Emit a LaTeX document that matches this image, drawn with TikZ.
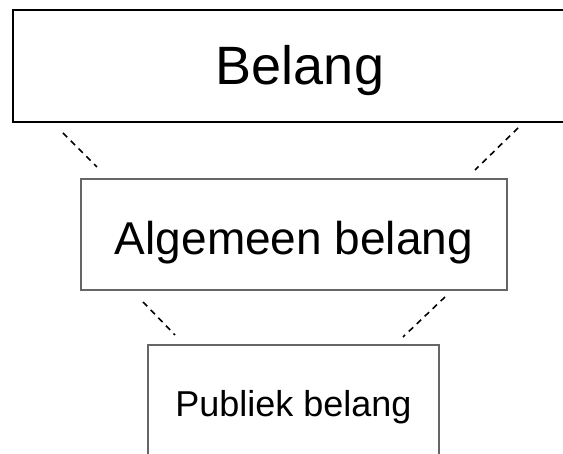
\documentclass[tikz,border=0pt]{standalone}
\usepackage{fontspec}
\setmainfont{Liberation Sans}
\begin{document}
\begin{tikzpicture}[x=1pt,y=-1pt,
  boxtop/.style={draw=black,line width=1.4pt,inner sep=0pt,text height=38pt,text depth=0pt,font=\fontsize{54}{64}\selectfont},
  boxmid/.style={draw=black!60,line width=1.1pt,inner sep=0pt,text height=41pt,text depth=0pt,font=\fontsize{46}{55}\selectfont},
  boxbot/.style={draw=black!60,line width=1.1pt,inner sep=0pt,text height=19pt,text depth=0pt,font=\fontsize{36}{43}\selectfont},
  link/.style={draw=black,line width=1.6pt,dash pattern=on 6pt off 5pt}]
\useasboundingbox (0,0) rectangle (563,454);
\clip (0,0) rectangle (563,454);
\fill[white] (0,0) rectangle (563,454);
\node[boxtop,minimum width=562pt,minimum height=112pt] (top) at (294,66) {\hspace*{12pt}Belang};
\node[boxmid,minimum width=426pt,minimum height=111pt] (mid) at (294,234.5) {Algemeen belang};
\node[boxbot,minimum width=291pt,minimum height=125pt] (bot) at (293.5,407.5) {Publiek belang};
\coordinate (tl1) at (63,133);
\coordinate (tl2) at (97,167);
\coordinate (tr1) at (518,128);
\coordinate (tr2) at (475,170);
\coordinate (ml1) at (143,302);
\coordinate (ml2) at (175,335);
\coordinate (mr1) at (445,297);
\coordinate (mr2) at (403,337);
\draw[link] (tl1) -- (tl2);
\draw[link] (tr1) -- (tr2);
\draw[link] (ml1) -- (ml2);
\draw[link] (mr1) -- (mr2);
\end{tikzpicture}
\end{document}
